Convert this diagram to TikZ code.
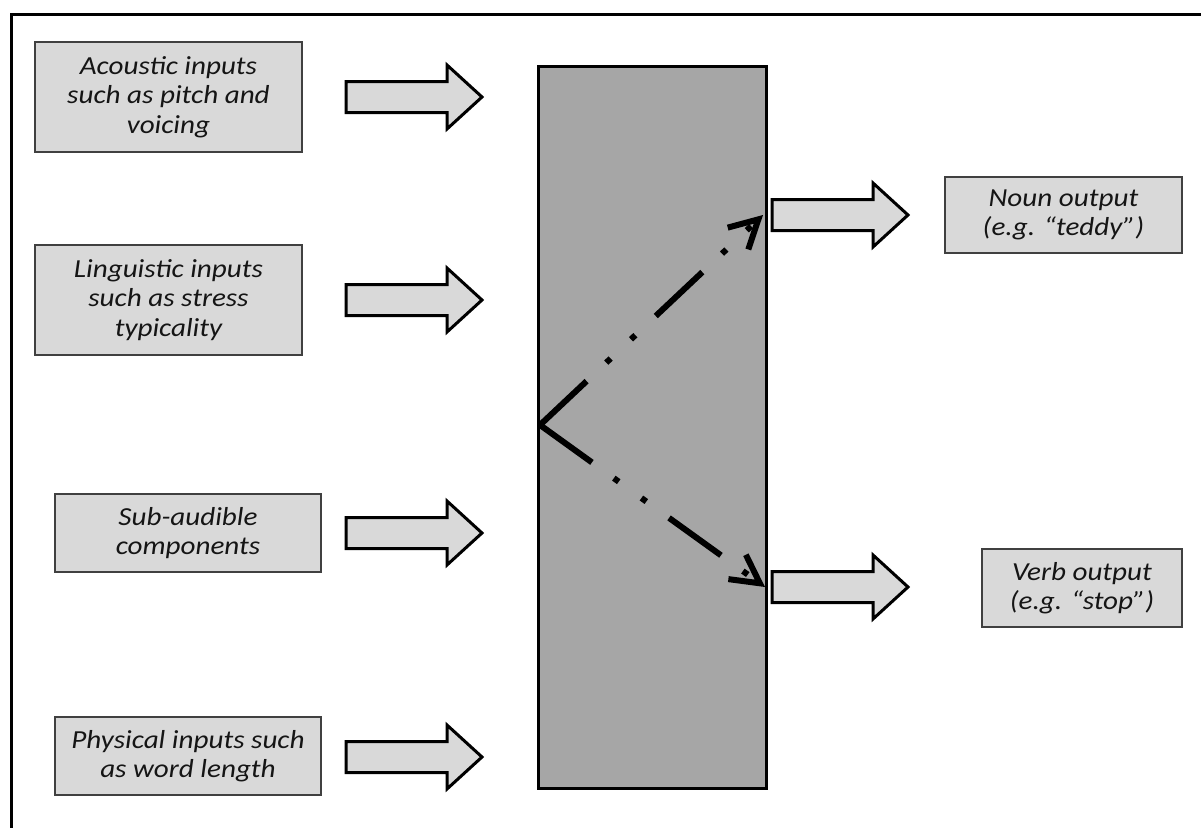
\documentclass[tikz,border=0pt]{standalone}
\usepackage{fontspec}
\setmainfont{Carlito}[FakeStretch=1.12]
\usetikzlibrary{arrows.meta}
\definecolor{boxfill}{HTML}{D9D9D9}
\definecolor{boxedge}{HTML}{404040}
\definecolor{corefill}{HTML}{A6A6A6}
\definecolor{inktext}{HTML}{151515}
\begin{document}
\begin{tikzpicture}[x=1pt,y=-1pt,
  label box/.style={draw=boxedge, fill=boxfill, line width=1.5pt,
    font=\itshape\fontsize{26}{29.5}\selectfont, text=inktext,
    align=center, inner sep=0pt},
  core/.style={draw=black, fill=corefill, line width=3pt},
  barrow/.style={draw=black, fill=boxfill, line width=3pt, line join=miter},
  flow/.style={line width=6pt, line cap=butt,
    dash pattern=on 64pt off 27pt on 6pt off 28pt on 6pt off 28pt,
    -{Straight Barb[length=28pt,width=30pt]}},
  blockarrow/.pic={\path[barrow] (0,-15.5) -- (101,-15.5) -- (101,-32) -- (136,0)
    -- (101,32) -- (101,15.5) -- (0,15.5) -- cycle;}
]
\useasboundingbox (0,0) rectangle (1201,827);
% outer frame (open at the right and bottom)
\draw[line width=3pt] (11,830) -- (11,14) -- (1205,14);

% input boxes
\node[label box, minimum width=267pt, minimum height=110pt] (acoustic) at (168.5,97)
  {Acoustic inputs\\such as pitch and\\voicing};
\node[label box, minimum width=267pt, minimum height=110pt] (linguistic) at (168.5,300)
  {Linguistic inputs\\such as stress\\typicality};
\node[label box, minimum width=266pt, minimum height=78pt] (subaudible) at (188,533)
  {Sub-audible\\components};
\node[label box, minimum width=266pt, minimum height=78pt] (physical) at (188,756)
  {Physical inputs such\\as word length};

% central processing block
\node[core, minimum width=228pt, minimum height=722pt] (core) at (652,427) {};

% input arrows
\pic at (346,97) {blockarrow};
\pic at (346,300) {blockarrow};
\pic at (346,533) {blockarrow};
\pic at (346,757) {blockarrow};

% output arrows
\pic at (772,215) {blockarrow};
\pic at (772,587) {blockarrow};

% output boxes
\node[label box, minimum width=237pt, minimum height=76pt] (noun) at (1063.5,215)
  {Noun output\\(e.g. “teddy”)};
\node[label box, minimum width=200pt, minimum height=78pt] (verb) at (1082,588)
  {Verb output\\(e.g. “stop”)};

% branching routes inside the block
\coordinate (fork) at (540,425);
\coordinate (nountip) at (763,215);
\coordinate (verbtip) at (765,587);
\draw[flow] (fork) -- (nountip);
\draw[flow] (fork) -- (verbtip);
\end{tikzpicture}
\end{document}
